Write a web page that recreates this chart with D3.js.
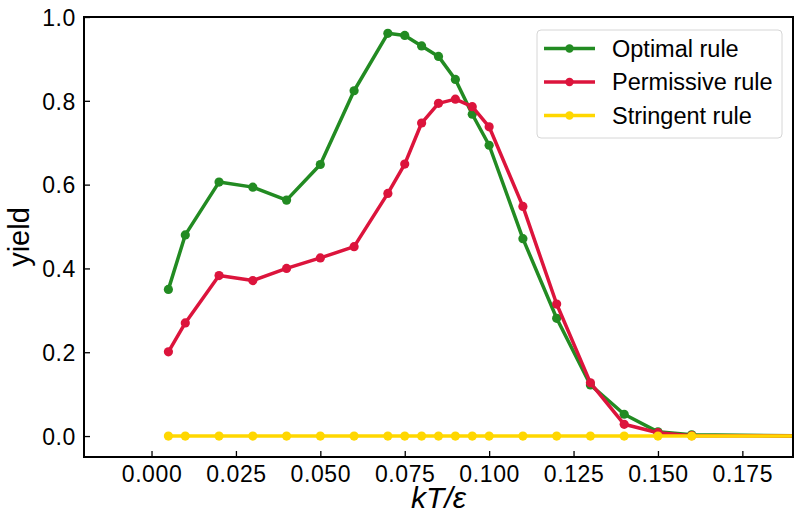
<!DOCTYPE html>
<html>
<head>
<meta charset="utf-8">
<script src="https://cdn.jsdelivr.net/npm/d3@7"></script>
<style>
  body { margin: 0; background: #fff; }
  text { font-family: "Liberation Sans", Arial, Helvetica, sans-serif; }
</style>
</head>
<body>
<svg id="chart" width="795" height="515"></svg>
<script>
// kT/eps values (last one sits past the right edge, gets clipped)
var temps = [0.005, 0.01, 0.02, 0.03, 0.04, 0.05, 0.06, 0.07, 0.075, 0.08, 0.085,
             0.09, 0.095, 0.1, 0.11, 0.12, 0.13, 0.14, 0.15, 0.16, 0.2];

var optimal = [0.35, 0.48, 0.606, 0.594, 0.563, 0.648, 0.824, 0.961, 0.956, 0.931, 0.906,
               0.851, 0.768, 0.694, 0.471, 0.281, 0.122, 0.052, 0.01, 0.003, 0.0];
var permissive = [0.201, 0.27, 0.383, 0.371, 0.40, 0.425, 0.452, 0.579, 0.649, 0.747, 0.794,
                  0.804, 0.786, 0.738, 0.548, 0.315, 0.127, 0.028, 0.008, 0.001, 0.0];
var stringent = [0, 0, 0, 0, 0, 0, 0, 0, 0, 0, 0,
                 0, 0, 0, 0, 0, 0, 0, 0, 0, 0];

var seriesNames = ["Optimal rule", "Permissive rule", "Stringent rule"];
var seriesColors = ["#228B22", "#DC143C", "#FFD700"];

var xTicks = [0.0, 0.025, 0.05, 0.075, 0.1, 0.125, 0.15, 0.175];
var yTicks = [0.0, 0.2, 0.4, 0.6, 0.8, 1.0];

var svg = d3.select("#chart"),
    margin = { top: 17, right: 2, bottom: 58, left: 84 },
    width = +svg.attr("width") - margin.left - margin.right,
    height = +svg.attr("height") - margin.top - margin.bottom;

var g = svg.append("g").attr("transform", "translate(" + margin.left + "," + margin.top + ")");

var x = d3.scaleLinear().domain([-0.02, 0.19]).range([0, width]);
var y = d3.scaleLinear().domain([-0.05, 1.0]).range([height, 0]);

svg.append("defs").append("clipPath").attr("id", "plotclip")
    .append("rect").attr("width", width).attr("height", height);

var allSeries = [optimal, permissive, stringent];
var line = d3.line()
    .x(function(d, i) { return x(temps[i]); })
    .y(function(d) { return y(d); });

var plot = g.append("g").attr("clip-path", "url(#plotclip)");

for (var s = 0; s < allSeries.length; s++) {
    plot.append("path")
        .datum(allSeries[s])
        .attr("fill", "none")
        .attr("stroke", seriesColors[s])
        .attr("stroke-width", 3.5)
        .attr("stroke-linejoin", "round")
        .attr("d", line);

    plot.selectAll(".dot" + s)
        .data(allSeries[s])
        .enter().append("circle")
            .attr("class", "dot" + s)
            .attr("cx", function(d, i) { return x(temps[i]); })
            .attr("cy", function(d) { return y(d); })
            .attr("r", 4.6)
            .attr("fill", seriesColors[s]);
}

// axes, ticks pointing inward
var xAxis = g.append("g")
    .attr("transform", "translate(0," + height + ")")
    .call(d3.axisBottom(x).tickValues(xTicks).tickFormat(d3.format(".3f"))
        .tickSizeInner(-6).tickSizeOuter(0).tickPadding(9));
var yAxis = g.append("g")
    .call(d3.axisLeft(y).tickValues(yTicks).tickFormat(d3.format(".1f"))
        .tickSizeInner(-6).tickSizeOuter(0).tickPadding(8));

[xAxis, yAxis].forEach(function(ax) {
    ax.select(".domain").remove();
    ax.selectAll(".tick line").attr("stroke", "#000").attr("stroke-width", 1.3);
    ax.selectAll(".tick text")
        .attr("fill", "#000")
        .style("font-size", "23px")
        .style("letter-spacing", "0.6px")
        .style("font-family", "'Liberation Sans', Arial, sans-serif");
});
yAxis.selectAll(".tick text").attr("dy", "0.36em");

// frame
g.append("rect")
    .attr("width", width).attr("height", height)
    .attr("fill", "none").attr("stroke", "#000").attr("stroke-width", 2);

// axis labels
svg.append("text")
    .attr("transform", "translate(" + 29 + "," + (margin.top + height / 2) + ") rotate(-90)")
    .attr("text-anchor", "middle")
    .style("font-size", "29px")
    .text("yield");

svg.append("text")
    .attr("x", margin.left + width / 2)
    .attr("y", 508)
    .attr("text-anchor", "middle")
    .style("font-size", "30px")
    .style("font-style", "italic")
    .text("kT/ε");

// legend
var leg = svg.append("g").attr("transform", "translate(537,30)");
leg.append("rect")
    .attr("width", 245).attr("height", 108)
    .attr("rx", 4).attr("ry", 4)
    .attr("fill", "#fff").attr("fill-opacity", 0.8)
    .attr("stroke", "#d6d6d6").attr("stroke-width", 1);

for (var k = 0; k < seriesNames.length; k++) {
    var row = leg.append("g").attr("transform", "translate(0," + (18.5 + k * 33.5) + ")");
    row.append("line")
        .attr("x1", 7).attr("x2", 58)
        .attr("stroke", seriesColors[k]).attr("stroke-width", 3.5);
    row.append("circle")
        .attr("cx", 32.5).attr("r", 4.2)
        .attr("fill", seriesColors[k]);
    row.append("text")
        .attr("x", 75).attr("dy", "0.36em")
        .style("font-size", "23.5px")
        .text(seriesNames[k]);
}
</script>
</body>
</html>
